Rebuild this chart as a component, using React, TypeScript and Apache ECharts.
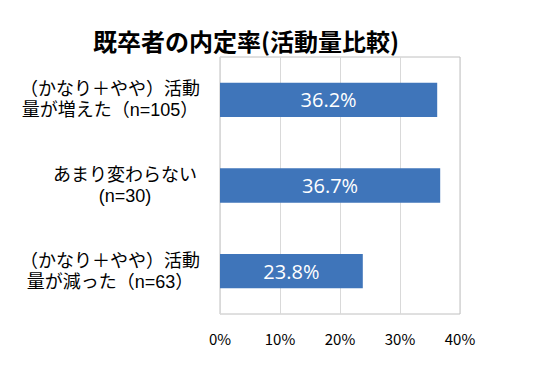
import React, { useEffect, useRef } from "react";
import * as echarts from "echarts";

const title = "既卒者の内定率(活動量比較)";
const categories = [
  "{a|（かなり＋やや）活動}\n{a|量が増えた（n=105）}",
  "{b|あまり変わらない}\n{b|(n=30)}",
  "{a|（かなり＋やや）活動}\n{a|量が減った（n=63）}",
];
const values = [36.2, 36.7, 23.8];
const xTicks = [0, 10, 20, 30, 40];

export default function App() {
  const ref = useRef<HTMLDivElement>(null);
  useEffect(() => {
    document.body.style.margin = "0";
    const chart = echarts.init(ref.current!, null, { renderer: "svg" });
    const jp = "'Noto Sans CJK JP', sans-serif";
    const lab = "'Liberation Sans', 'Noto Sans CJK JP', sans-serif";
    chart.setOption({
      animation: false,
      backgroundColor: "#ffffff",
      title: {
        text: title,
        left: 88,
        top: 23,
        textStyle: { fontFamily: jp, fontSize: 24, fontWeight: "bold", color: "#000" },
      },
      grid: {
        left: 220,
        right: 73,
        top: 57,
        bottom: 63,
        show: true,
        borderColor: "#c0c0c0",
        borderWidth: 1,
      },
      xAxis: {
        type: "value",
        min: xTicks[0],
        max: xTicks[xTicks.length - 1],
        interval: 10,
        axisLine: { show: false },
        axisTick: { show: false },
        splitLine: { show: true, lineStyle: { color: "#d9d9d9" } },
        axisLabel: {
          formatter: (v: number) => v + "%",
          color: "#000",
          fontFamily: jp,
          fontSize: 15,
          margin: 17,
        },
      },
      yAxis: {
        type: "category",
        inverse: true,
        data: categories,
        axisLine: { show: true, lineStyle: { color: "#d9d9d9" } },
        axisTick: { show: false },
        axisLabel: {
          align: "right",
          margin: 20,
          color: "#000",
          fontFamily: lab,
          fontSize: 18,
          lineHeight: 21,
          rich: {
            a: { width: 180, align: "center", fontFamily: lab, fontSize: 18, lineHeight: 21, color: "#000" },
            b: { width: 150, align: "center", fontFamily: lab, fontSize: 18, lineHeight: 21, color: "#000" },
          },
        },
      },
      series: [
        {
          type: "bar",
          data: values,
          barWidth: "40%",
          itemStyle: { color: "#3f75ba" },
          label: {
            show: true,
            position: "inside",
            formatter: (p: any) => p.value.toFixed(1) + "%",
            color: "#fff",
            fontFamily: "'Open Sans', sans-serif",
            fontSize: 20,
          },
        },
      ],
    });
    return () => chart.dispose();
  }, []);
  return <div ref={ref} style={{ width: 533, height: 377 }} />;
}
